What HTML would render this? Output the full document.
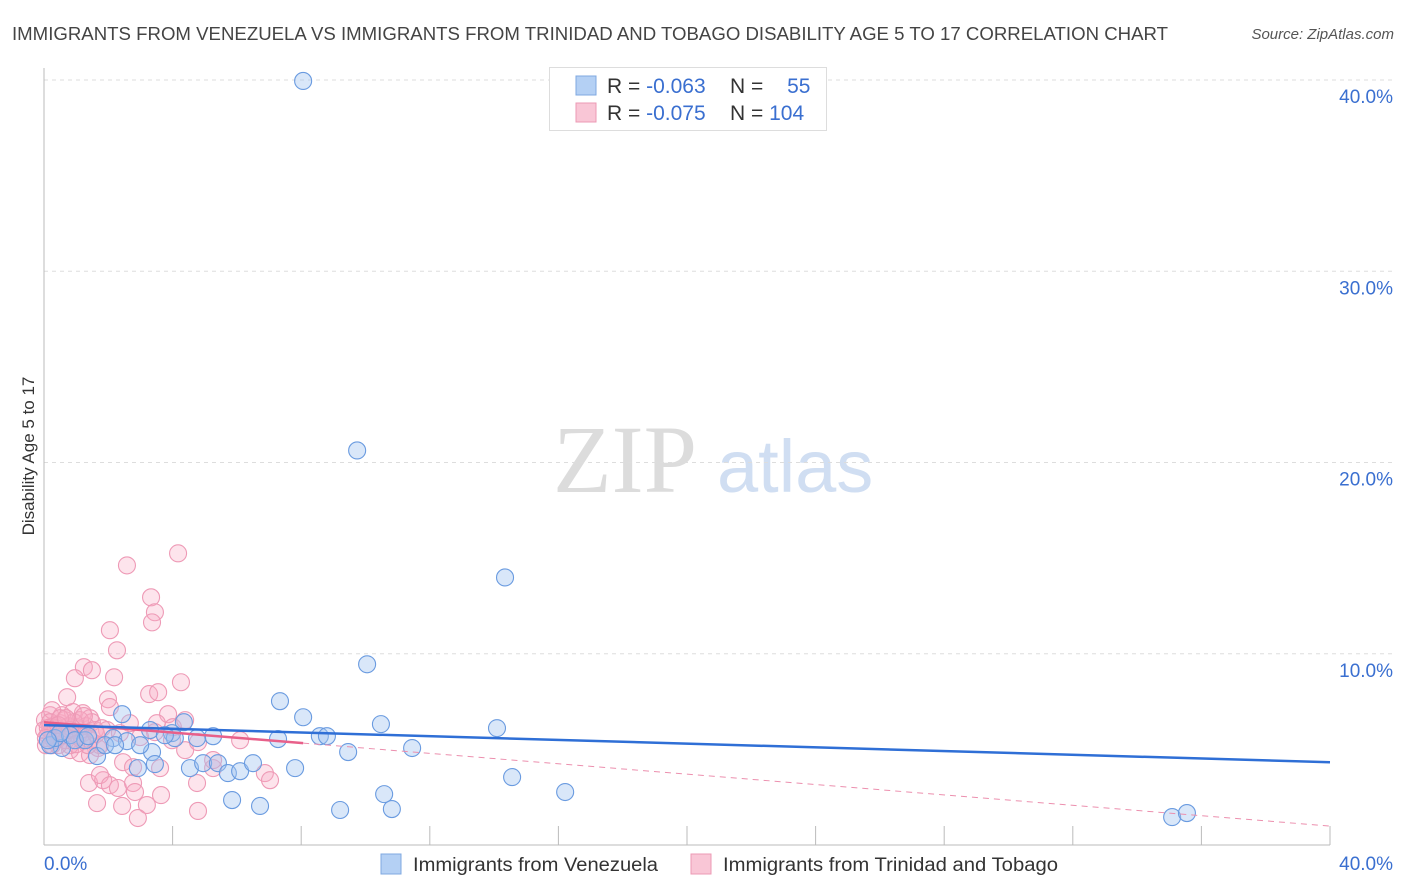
<!DOCTYPE html>
<html><head><meta charset="utf-8"><style>
body{margin:0;background:#fff;font-family:"Liberation Sans",sans-serif;}
#wrap{position:relative;width:1406px;height:892px;overflow:hidden;}
svg{position:absolute;left:0;top:0;}
</style></head><body><div id="wrap">
<svg id="c" width="1406" height="892">
<text x="12" y="40" font-size="18" fill="#444" textLength="1156" lengthAdjust="spacingAndGlyphs">IMMIGRANTS FROM VENEZUELA VS IMMIGRANTS FROM TRINIDAD AND TOBAGO DISABILITY AGE 5 TO 17 CORRELATION CHART</text>
<text x="1394" y="39" font-size="15" fill="#555" font-style="italic" text-anchor="end">Source: ZipAtlas.com</text>
<g>
<text x="553" y="492" font-size="96" font-family="Liberation Serif,serif" fill="#dcdcdc">ZIP</text>
<text x="717" y="492" font-size="74" fill="#d0def2">atlas</text>
</g>
<text transform="translate(34,456) rotate(-90)" font-size="17" fill="#333" text-anchor="middle">Disability Age 5 to 17</text>
<g id="grid"></g><g id="marks"></g>
<g>
<rect x="549.5" y="67.5" width="277" height="63" fill="#fff" stroke="#ddd"/>
<rect x="576" y="76" width="20" height="19" fill="#b4d0f4" stroke="#7fa8e0"/>
<rect x="576" y="103" width="20" height="19" fill="#f9c6d6" stroke="#ec9ab4"/>
<text x="607" y="93" font-size="21" fill="#333">R = <tspan fill="#3a6fd0">-0.063</tspan></text>
<text x="730" y="93" font-size="21" fill="#333">N = <tspan fill="#3a6fd0" dx="18">55</tspan></text>
<text x="607" y="120" font-size="21" fill="#333">R = <tspan fill="#3a6fd0">-0.075</tspan></text>
<text x="730" y="120" font-size="21" fill="#333">N = <tspan fill="#3a6fd0">104</tspan></text>
</g>
<g>
<rect x="381" y="854" width="20" height="20" fill="#b4d0f4" stroke="#7fa8e0"/>
<text x="413" y="871" font-size="19" fill="#333" textLength="245" lengthAdjust="spacingAndGlyphs">Immigrants from Venezuela</text>
<rect x="691" y="854" width="20" height="20" fill="#f9c6d6" stroke="#ec9ab4"/>
<text x="723" y="871" font-size="19" fill="#333" textLength="335" lengthAdjust="spacingAndGlyphs">Immigrants from Trinidad and Tobago</text>
</g>
</svg></div>
<script>
const yTicks=[10,20,30,40];
const yTickLabels=["10.0%","20.0%","30.0%","40.0%"];
const xTickLabels=["0.0%","40.0%"];
const blueX=[8.06,9.74,14.34,10.05,7.34,8.06,10.48,14.09,4.35,2.43,5.26,3.98,3.30,2.15,2.58,8.58,8.80,7.28,4.76,11.45,9.46,3.36,2.99,1.65,1.90,0.56,0.19,0.34,0.81,1.28,4.54,4.95,5.41,5.72,6.10,6.50,7.81,5.85,6.72,9.21,10.58,10.82,14.56,16.21,35.09,35.55,2.92,3.45,0.96,1.37,0.50,0.12,4.07,3.76,2.21];
const blueY=[39.95,20.63,13.99,9.45,7.52,6.68,6.32,6.11,6.42,6.84,5.69,5.85,6.01,5.59,5.43,5.69,5.69,5.54,5.59,5.07,4.86,4.86,5.22,4.65,5.22,5.07,5.22,5.59,5.74,5.48,4.02,4.28,4.28,3.76,3.86,4.28,4.02,2.35,2.04,1.83,2.66,1.88,3.55,2.77,1.46,1.67,4.02,4.23,5.48,5.69,5.85,5.48,5.59,5.74,5.22];
const pinkX=[4.17,2.58,3.33,3.45,3.36,2.05,2.27,1.24,1.49,0.96,2.18,4.26,3.27,3.55,0.72,1.99,2.05,3.86,1.21,0.90,3.51,2.67,4.39,3.61,2.46,2.77,1.40,1.84,1.74,2.05,2.30,2.77,2.83,3.64,3.20,2.43,1.65,2.92,4.79,4.76,6.87,7.03,5.26,5.26,3.45,2.99,0.81,1.12,1.43,0.44,0.19,0.28,0.50,0.65,1.03,1.21,1.96,2.36,1.68,4.01,1.43,0.19,0.34,0.12,0.81,1.74,1.43,0.03,0.56,0.87,1.06,1.31,1.59,0.68,0.44,0.06,0.25,1.12,4.39,4.79,6.10,3.98,0.19,0.37,0.56,0.75,0.93,1.18,0.31,0.50,1.37,0.00,0.12,0.62,0.81,0.44,1.00,1.49,1.62,1.80,0.68,0.25,1.24,0.06];
const pinkY=[15.25,14.62,12.95,12.17,11.64,11.23,10.18,9.30,9.14,8.72,8.77,8.51,7.89,7.99,7.73,7.62,7.21,6.84,6.89,6.95,6.37,6.37,4.96,4.02,4.33,4.07,3.24,3.39,3.66,3.13,2.98,3.24,2.77,2.61,2.09,2.04,2.19,1.41,1.78,3.24,3.76,3.39,4.02,4.44,5.90,5.64,4.96,4.80,5.48,5.64,6.16,5.85,6.37,6.53,6.16,5.85,6.01,5.85,5.07,6.16,6.63,6.79,6.27,5.74,5.22,5.22,4.70,6.53,6.79,6.11,5.74,6.21,6.01,5.48,5.22,5.22,7.05,6.53,6.53,5.38,5.48,5.48,6.42,6.11,5.90,6.21,6.42,5.48,5.48,6.63,5.22,6.01,6.11,5.74,6.01,6.27,5.27,6.42,5.80,6.11,6.63,5.22,6.74,5.59];
const blueTrend=[6.27,4.33];
const pinkTrend=[6.42,0.99];
const pinkSolidEnd=8.06;
const X0=44,X1=1330,Y0=845,Y40=80;
const sx=v=>X0+v/40*(X1-X0);
const sy=v=>Y0-v/40*(Y0-Y40);
const NS="http://www.w3.org/2000/svg";
function mk(t,a,p){const e=document.createElementNS(NS,t);for(const k in a)e.setAttribute(k,a[k]);p.appendChild(e);return e;}
const g=document.getElementById('grid'),m=document.getElementById('marks');
yTicks.forEach((t,i)=>{
 const l=mk('line',{x1:X0,x2:1394,y1:sy(t),y2:sy(t),stroke:'#ddd','stroke-dasharray':'4,4'},g);
 
 
 const tx=mk('text',{x:1393,y:sy(t)+23,'font-size':19,fill:'#3a6fd0','text-anchor':'end'},g);tx.textContent=yTickLabels[i];
 
 
});
const ax=mk('line',{x1:X0,x2:X1,y1:Y0,y2:Y0,stroke:'#bbb'},g);


const ay=mk('line',{x1:X0,x2:X0,y1:68,y2:Y0,stroke:'#bbb'},g);


for(let i=1;i<=10;i++){const x=sx(i*4);const t=mk('line',{x1:x,x2:x,y1:826,y2:Y0,stroke:'#bbb'},g);
 
 }
const xl0=mk('text',{x:44,y:870,'font-size':19,fill:'#3a6fd0'},g);xl0.textContent=xTickLabels[0];


const xl1=mk('text',{x:1393,y:870,'font-size':19,fill:'#3a6fd0','text-anchor':'end'},g);xl1.textContent=xTickLabels[1];


pinkX.forEach((v,i)=>{const c=mk('circle',{cx:sx(v),cy:sy(pinkY[i]),r:8.5,fill:'rgba(248,172,196,0.32)',stroke:'#ee9ab6','stroke-width':1.1},m);
 
 });
blueX.forEach((v,i)=>{const c=mk('circle',{cx:sx(v),cy:sy(blueY[i]),r:8.5,fill:'rgba(160,196,240,0.4)',stroke:'#6a9be0','stroke-width':1.1},m);
 
 });
const pAt=x=>pinkTrend[0]+(pinkTrend[1]-pinkTrend[0])*x/40;
const pd=mk('line',{x1:sx(pinkSolidEnd),y1:sy(pAt(pinkSolidEnd)),x2:sx(40),y2:sy(pinkTrend[1]),stroke:'#ec8fae','stroke-width':1,'stroke-dasharray':'6,5'},m);


const ps=mk('line',{x1:sx(0),y1:sy(pinkTrend[0]),x2:sx(pinkSolidEnd),y2:sy(pAt(pinkSolidEnd)),stroke:'#e8608a','stroke-width':2.5},m);


const bl=mk('line',{x1:sx(0),y1:sy(blueTrend[0]),x2:sx(40),y2:sy(blueTrend[1]),stroke:'#2f6fd6','stroke-width':2.5},m);


</script></body></html>
